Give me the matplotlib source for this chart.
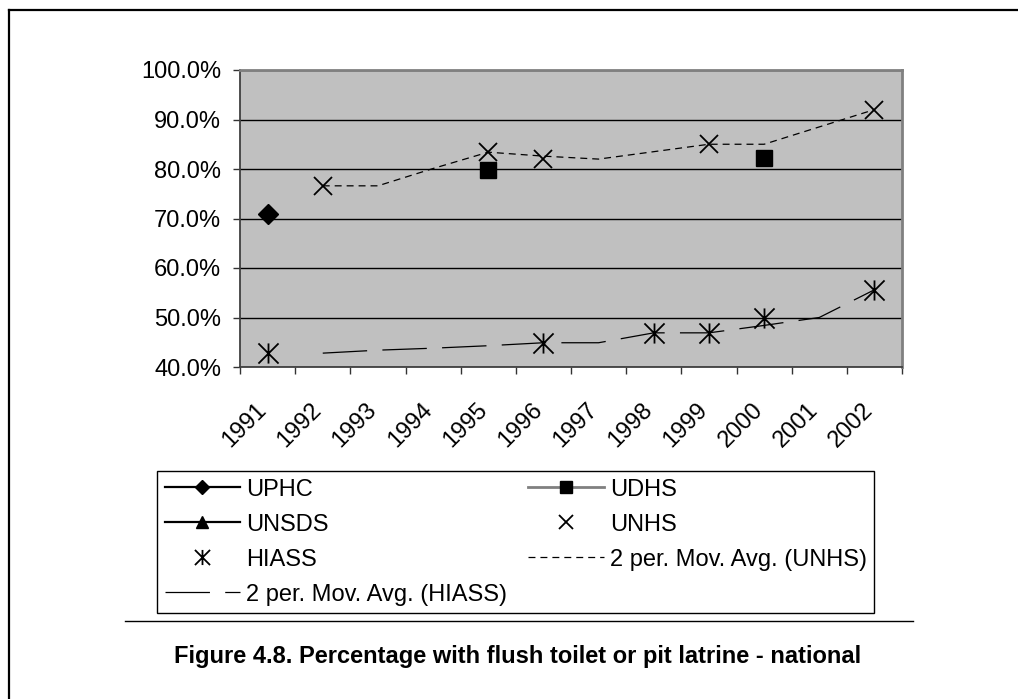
import numpy as np
import matplotlib.pyplot as plt
from matplotlib.lines import Line2D
from matplotlib.path import Path

plt.rcParams['font.family'] = ['Liberation Sans', 'DejaVu Sans']
plt.rcParams['lines.scale_dashes'] = False

nan = np.nan
years = ['1991', '1992', '1993', '1994', '1995', '1996',
         '1997', '1998', '1999', '2000', '2001', '2002']

# percent values (nan = no survey that year)
uphc = [70.9, nan, nan, nan, nan, nan, nan, nan, nan, nan, nan, nan]
udhs = [nan, nan, nan, nan, 79.8, nan, nan, nan, nan, 82.3, nan, nan]
unsds = [nan] * 12
unhs = [nan, 76.6, nan, nan, 83.4, 82.0, nan, nan, 85.0, nan, nan, 92.0]
hiass = [42.8, nan, nan, nan, nan, 44.9, nan, 46.9, 46.9, 50.0, nan, 55.6]
ma_unhs = [nan, 76.6, 76.6, 80.1, 83.4, 82.6, 82.0, 83.5, 85.0, 85.0, 88.5, 92.0]
ma_hiass = [nan, 42.8, 43.4, 43.8, 44.3, 44.9, 44.9, 46.9, 46.9, 48.4, 50.0, 55.6]

W, H = 1018, 699
fig = plt.figure(figsize=(W / 100, H / 100), dpi=100)
ax = fig.add_axes([240 / W, 1 - 367 / H, 662 / W, 297 / H])
x = np.arange(len(years))

# excel style star: an X with a vertical bar
star = Path([(-0.5, -0.5), (0.5, 0.5), (-0.5, 0.5), (0.5, -0.5), (0, -0.5), (0, 0.5)],
            [Path.MOVETO, Path.LINETO] * 3)

h_uphc, = ax.plot(x, uphc, color='black', lw=1.6, marker='D', ms=10, label='UPHC')
h_udhs, = ax.plot(x, udhs, color='#808080', lw=2, marker='s', ms=12,
                  mfc='black', mec='black', label='UDHS')
h_unsds, = ax.plot(x, unsds, color='black', lw=1.6, marker='^', ms=12, label='UNSDS')
h_unhs, = ax.plot(x, unhs, ls='none', marker='x', ms=13.5, mew=1.3,
                  color='black', label='UNHS')
h_hiass, = ax.plot(x, hiass, ls='none', marker=star, ms=14.5, mew=1.3,
                   color='black', mfc='none', label='HIASS')
h_ma1, = ax.plot(x, ma_unhs, color='black', lw=0.9, ls=(0, (5, 3.6)),
                 label='2 per. Mov. Avg. (UNHS)')
h_ma2, = ax.plot(x, ma_hiass, color='black', lw=0.9, ls=(0, (32, 11)),
                 label='2 per. Mov. Avg. (HIASS)')

ax.set_xlim(-0.5, 11.5)
ax.set_ylim(40, 100)
ax.set_facecolor('#C0C0C0')

ax.set_xticks(np.arange(-0.5, 12, 1), [''] * 13)
ax.set_xticks(x - 0.08, years, minor=True)
ax.tick_params(axis='x', which='major', length=5, width=1, color='#333333')
ax.tick_params(axis='x', which='minor', length=0, pad=28.5, labelsize=17)
for lab in ax.get_xticklabels(minor=True):
    lab.set_rotation(45)
    lab.set_ha('right')
    lab.set_va('center')
    lab.set_rotation_mode('anchor')

yt = np.arange(40, 101, 10)
ax.set_yticks(yt, [f'{v:.1f}%' for v in yt])
ax.tick_params(axis='y', length=5, width=1, pad=8.5, labelsize=17, color='#333333')
ax.yaxis.grid(True, color='black', lw=1)
ax.set_axisbelow(True)

for s in ['left', 'bottom']:
    ax.spines[s].set_color('#404040')
    ax.spines[s].set_linewidth(1.3)
for s in ['top', 'right']:
    ax.spines[s].set_color('#808080')
    ax.spines[s].set_linewidth(2)

handles = [h_uphc, h_unsds, h_hiass, h_ma2, h_udhs, h_unhs, h_ma1]
leg = fig.legend(handles=handles, labels=[h.get_label() for h in handles],
                 loc='upper left', bbox_to_anchor=(157 / W, 1 - 471 / H),
                 ncols=2, fontsize=17, fancybox=False, edgecolor='black',
                 framealpha=1, handlelength=3.2, handletextpad=0.25,
                 columnspacing=0.9, labelspacing=0.55, borderpad=0.32,
                 borderaxespad=0, markerscale=0.75, numpoints=1)
leg.get_frame().set_linewidth(1)

# page frame, rule and caption
fig.add_artist(Line2D([9 / W, 1], [1 - 10 / H] * 2, color='black', lw=1.6))
fig.add_artist(Line2D([9 / W] * 2, [0, 1 - 10 / H], color='black', lw=1.6))
fig.add_artist(Line2D([125 / W, 913 / W], [1 - 621 / H] * 2, color='black', lw=1))
fig.text(518 / W, 1 - 657 / H,
         'Figure 4.8. Percentage with flush toilet or pit latrine - national',
         ha='center', va='center', fontsize=17, fontweight='bold')

fig.savefig('out.png', dpi=100)
